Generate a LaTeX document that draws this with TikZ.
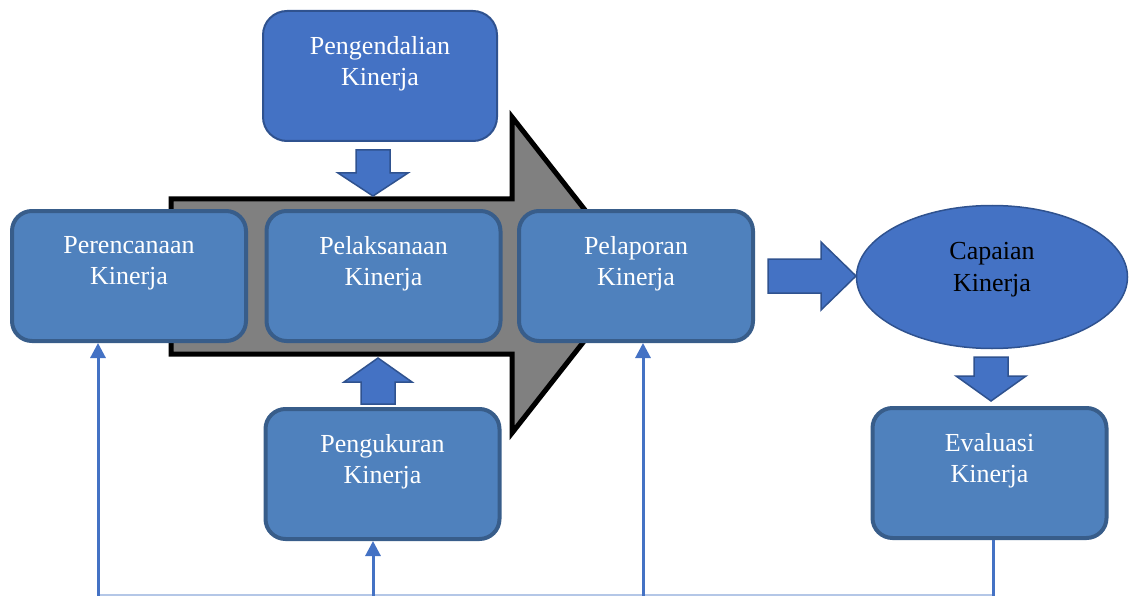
\documentclass[tikz,border=0pt]{standalone}
\usepackage{fontspec}
\setmainfont{Liberation Serif}
\usetikzlibrary{arrows.meta,shapes.geometric}
\definecolor{boxfill}{HTML}{4F81BD}
\definecolor{boxline}{HTML}{385D8A}
\definecolor{accfill}{HTML}{4472C4}
\definecolor{accline}{HTML}{2F528F}
\definecolor{basecol}{HTML}{B4C7E7}
\tikzset{
  box/.style={draw=boxline, fill=boxfill, line width=4pt, rounded corners=20pt,
    text=white, align=center, font=\fontsize{26}{31}\selectfont,
    minimum width=234pt, minimum height=130pt, inner sep=0pt},
  topbox/.style={box, draw=accline, fill=accfill, line width=2pt, rounded corners=24pt,
    minimum width=234pt, minimum height=130pt},
  blockarrow/.style={draw=accline, fill=accfill, line width=1.5pt, line join=miter},
  conn/.style={draw=accfill, line width=3pt, -{Triangle[width=15pt,length=15pt]}},
  plainconn/.style={draw=accfill, line width=3pt},
  baseconn/.style={draw=basecol, line width=2pt},
}
\begin{document}
\begin{tikzpicture}[x=1pt, y=-1pt]
\useasboundingbox (0,0) rectangle (1129,596);

% big process arrow behind the boxes
\draw[fill=black!50, draw=black, line width=5pt, line join=miter]
  (171,199) -- (512,199) -- (512,117) -- (636,275) -- (512,433)
  -- (512,354) -- (171,354) -- cycle;

% process boxes
\node[topbox] (pe) at (380,76) {Pengendalian\\Kinerja\\~};
\node[box] (pr) at (129,276) {Perencanaan\\Kinerja\\~};
\node[box] (pl) at (383.5,276) {Pelaksanaan\\Kinerja\\~};
\node[box] (pp) at (636,276) {Pelaporan\\Kinerja\\~};
\node[box] (pu) at (382.5,474) {Pengukuran\\Kinerja\\~};
\node[box] (ev) at (989.5,473) {Evaluasi\\Kinerja\\~};
\node[ellipse, draw=accline, fill=accfill, line width=1.5pt,
  minimum width=271pt, minimum height=143pt, inner sep=0pt,
  align=center, font=\fontsize{26}{32}\selectfont, text=black]
  (ca) at (992,277) {Capaian\\Kinerja\\[-12pt]~};

% block arrows
\draw[blockarrow] (356,150) -- (390,150) -- (390,173) -- (408,173) -- (373,196)
  -- (338,173) -- (356,173) -- cycle;
\draw[blockarrow] (361,404) -- (395,404) -- (395,382) -- (412,382) -- (378,358)
  -- (344,382) -- (361,382) -- cycle;
\draw[blockarrow] (768,259) -- (821,259) -- (821,242) -- (856,276) -- (821,310)
  -- (821,293) -- (768,293) -- cycle;
\draw[blockarrow] (974,357) -- (1008,357) -- (1008,376) -- (1026,376) -- (991,401)
  -- (956,376) -- (974,376) -- cycle;

% feedback lines along the bottom
\coordinate (f1) at (98,596);
\coordinate (f2) at (373,596);
\coordinate (f3) at (643,596);
\coordinate (f4) at (993,596);
\draw[baseconn] (98,594.5) -- (993,594.5);
\draw[conn] (f1) -- (f1 |- pr.south);
\draw[conn] (f2) -- (f2 |- pu.south);
\draw[conn] (f3) -- (f3 |- pp.south);
\draw[plainconn] (f4 |- ev.south) -- (f4);
\end{tikzpicture}
\end{document}
